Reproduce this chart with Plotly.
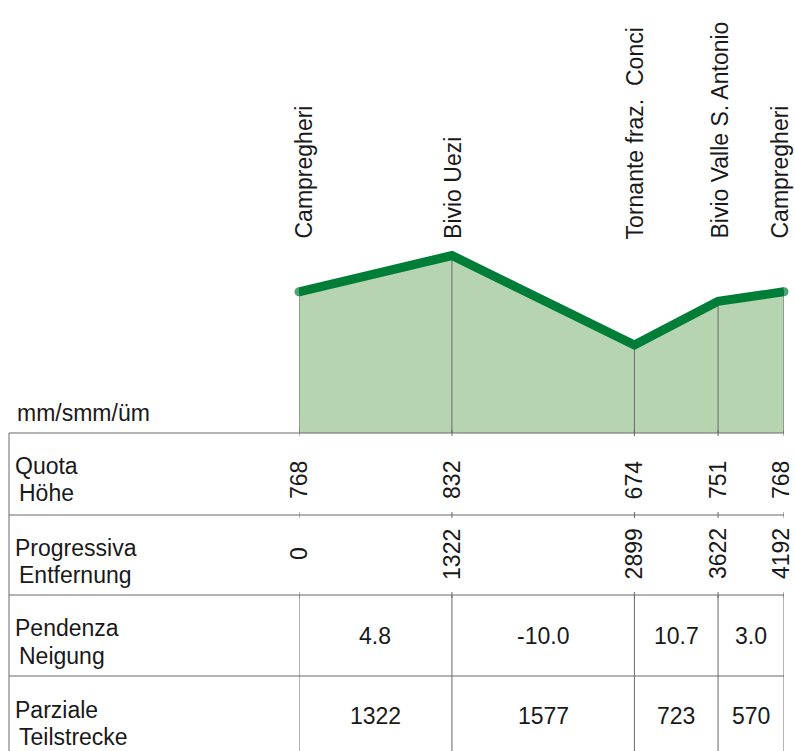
import plotly.graph_objects as go

# ---------------- data ----------------
stations = ["Campregheri", "Bivio Uezi", "Tornante fraz.  Conci",
            "Bivio Valle S. Antonio", "Campregheri"]
distance = [0, 1322, 2899, 3622, 4192]          # progressive distance (m)
elevation = [768, 832, 674, 751, 768]           # altitude (m)
slope = [4.8, -10.0, 10.7, 3.0]                 # gradient (%)
partial = [1322, 1577, 723, 570]                # partial length (m)
row_labels = [("Quota", "Höhe"), ("Progressiva", "Entfernung"),
              ("Pendenza", "Neigung"), ("Parziale", "Teilstrecke")]
unit_label = "mm/smm/üm"

# ---------------- layout helpers ----------------
W, H = 795, 751
X0, X1 = 299, 784            # pixel span of the distance axis
BASE_PX = 433                # pixel of the profile baseline
Y_HI_PX, Y_LO_PX = 255.5, 345.0   # pixel of max / min elevation
emax, emin = max(elevation), min(elevation)
ppm = (Y_LO_PX - Y_HI_PX) / (emax - emin)
y_base = emax - (BASE_PX - Y_HI_PX) / ppm
y_top = emax + Y_HI_PX / ppm

def px(x):
    return x / W

def py(y):
    return 1 - y / H

FILL = "rgb(183,212,177)"
LINE = "rgb(0,126,56)"
GRID = "rgb(105,105,105)"
TXT = "rgb(25,25,25)"
FONT = "Liberation Sans, Arial, sans-serif"
FS = 23

fig = go.Figure()

# baseline + filled area
fig.add_trace(go.Scatter(x=distance, y=[y_base] * len(distance), mode="lines",
                         line=dict(width=0), hoverinfo="skip", showlegend=False))
fig.add_trace(go.Scatter(x=distance, y=elevation, mode="lines", fill="tonexty",
                         fillcolor=FILL, line=dict(width=0), hoverinfo="skip",
                         showlegend=False))
# station vertical lines
for d, e in zip(distance, elevation):
    fig.add_trace(go.Scatter(x=[d, d], y=[y_base, e], mode="lines",
                             line=dict(color=GRID, width=1), hoverinfo="skip",
                             showlegend=False))
# profile line
n = len(distance)
fig.add_trace(go.Scatter(x=distance, y=elevation, mode="lines+markers",
                         line=dict(color=LINE, width=9),
                         marker=dict(color=LINE, size=[9] + [0] * (n - 2) + [9],
                                     line=dict(width=0)),
                         hoverinfo="skip", showlegend=False, cliponaxis=False))

shapes = []
LINE_STYLE = dict(color=GRID, width=1)
TABLE_LEFT = 9
ROW_Y = [433, 515, 595, 676, 751]
# horizontal row lines
for y in ROW_Y[:4]:
    shapes.append(dict(type="line", xref="paper", yref="paper",
                       x0=px(TABLE_LEFT), x1=px(X1), y0=py(y), y1=py(y),
                       line=LINE_STYLE))
# left border
shapes.append(dict(type="line", xref="paper", yref="paper",
                   x0=px(TABLE_LEFT), x1=px(TABLE_LEFT), y0=py(ROW_Y[0]), y1=py(H + 2),
                   line=LINE_STYLE))
# station ticks / columns
for d in distance:
    for y in ROW_Y[:3]:
        shapes.append(dict(type="line", xref="x", yref="paper", x0=d, x1=d,
                           y0=py(y - 3), y1=py(y + 3), line=LINE_STYLE))
    shapes.append(dict(type="line", xref="x", yref="paper", x0=d, x1=d,
                       y0=py(ROW_Y[2]), y1=py(H + 2), line=LINE_STYLE))

annotations = []
font = dict(family=FONT, size=FS, color=TXT)

# station names (rotated)
for i, (d, name) in enumerate(zip(distance, stations)):
    shift = 4 if i == 0 else (-5 if i == n - 1 else 1)
    annotations.append(dict(x=d, xref="x", y=py(241), yref="paper", text=name,
                            textangle=-90, showarrow=False, xanchor="center",
                            yanchor="bottom", xshift=shift, font=font))

# unit label
annotations.append(dict(x=px(15), xref="paper", y=py(413), yref="paper",
                        text=unit_label, showarrow=False, xanchor="left",
                        yanchor="middle", font=font))

# row labels
label_y = [(466, 493), (548, 575), (628, 656), (710, 737)]
for (l1, l2), (y1, y2) in zip(row_labels, label_y):
    annotations.append(dict(x=px(13), xref="paper", y=py(y1), yref="paper",
                            text=l1, showarrow=False, xanchor="left",
                            yanchor="middle", font=font))
    annotations.append(dict(x=px(17), xref="paper", y=py(y2), yref="paper",
                            text=l2, showarrow=False, xanchor="left",
                            yanchor="middle", font=font))

# rotated numbers: elevation and distance
for i, (d, e) in enumerate(zip(distance, elevation)):
    shift = -3 if i == n - 1 else 0
    annotations.append(dict(x=d, xref="x", y=py(480), yref="paper", text=str(e),
                            textangle=-90, showarrow=False, xanchor="center",
                            yanchor="middle", xshift=shift, font=font))
    annotations.append(dict(x=d, xref="x", y=py(554), yref="paper", text=str(d),
                            textangle=-90, showarrow=False, xanchor="center",
                            yanchor="middle", xshift=shift, font=font))

# segment values
for i in range(n - 1):
    mid = (distance[i] + distance[i + 1]) / 2
    annotations.append(dict(x=mid, xref="x", y=py(636), yref="paper",
                            text=f"{slope[i]:.1f}", showarrow=False,
                            xanchor="center", yanchor="middle", font=font))
    annotations.append(dict(x=mid, xref="x", y=py(716), yref="paper",
                            text=str(partial[i]), showarrow=False,
                            xanchor="center", yanchor="middle", font=font))

fig.update_layout(
    width=W, height=H, margin=dict(l=0, r=0, t=0, b=0),
    paper_bgcolor="white", plot_bgcolor="white",
    xaxis=dict(range=[distance[0], distance[-1]], domain=[px(X0), px(X1)],
               visible=False, fixedrange=True),
    yaxis=dict(range=[y_base, y_top], domain=[py(BASE_PX), 1],
               visible=False, fixedrange=True),
    shapes=shapes, annotations=annotations, showlegend=False,
)

fig.write_html("out.html")
